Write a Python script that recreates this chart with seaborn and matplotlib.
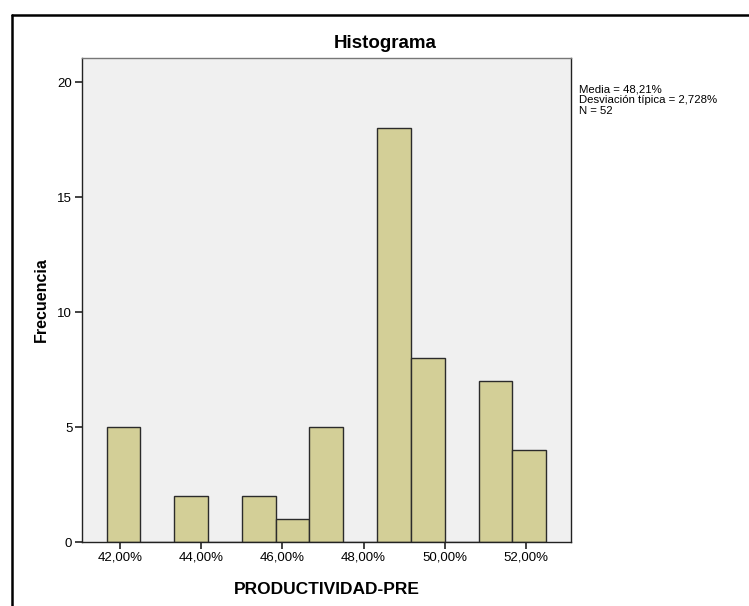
import numpy as np
import matplotlib
matplotlib.use("Agg")
import matplotlib.pyplot as plt
import seaborn as sns
from matplotlib.lines import Line2D

# bin centres (%) and counts
bin_centers = [42.083, 42.917, 43.750, 44.583, 45.417, 46.250, 47.083,
               47.917, 48.750, 49.583, 50.417, 51.250, 52.083]
counts = [5, 0, 2, 0, 2, 1, 5, 0, 18, 8, 0, 7, 4]
x_ticks = [42, 44, 46, 48, 50, 52]
y_ticks = [0, 5, 10, 15, 20]
stats_text = ["Media = 48,21%", "Desviación típica = 2,728%", "N = 52"]

sns.set_style("white", {"text.color": "black", "axes.labelcolor": "black",
                        "xtick.color": "black", "ytick.color": "black"})
plt.rcParams["font.family"] = ["Liberation Sans", "DejaVu Sans"]

fig = plt.figure(figsize=(7.49, 6.06), dpi=100)
ax = fig.add_axes([0.1095, 0.1056, 0.6528, 0.7987])

width = bin_centers[1] - bin_centers[0]
edges = [c - width / 2 for c in bin_centers] + [bin_centers[-1] + width / 2]

sns.histplot(x=bin_centers, weights=counts, bins=edges, ax=ax,
             color="#d3cf97", edgecolor="#2b2b2b", linewidth=1.0, alpha=1.0)

ax.set_facecolor("#f0f0f0")
ax.set_xlim(41.06, 53.11)
ax.set_ylim(0, 21.05)
ax.set_xticks(x_ticks)
ax.set_xticklabels([f"{t:.2f}%".replace(".", ",") for t in x_ticks], fontsize=9.5)
ax.set_yticks(y_ticks)
ax.set_yticklabels([str(t) for t in y_ticks], fontsize=9.5)
ax.tick_params(axis="both", direction="out", length=5, width=1.2, color="#222222",
               labelcolor="black", bottom=True, left=True, pad=2)

for side, sp in ax.spines.items():
    sp.set_visible(True)
    sp.set_linewidth(1.0)
    sp.set_color("#222222")
ax.spines["top"].set_color("#777777")

ax.set_xlabel("PRODUCTIVIDAD-PRE", fontsize=12.5, fontweight="bold", labelpad=13,
              color="black")
ax.set_ylabel("Frecuencia", fontsize=11.5, fontweight="bold", labelpad=6, color="black")

fig.text(0.514, 0.929, "Histograma", ha="center", va="center",
         fontsize=13.5, fontweight="bold", color="black")

for i, line in enumerate(stats_text):
    fig.text(0.773, 0.852 - i * 0.0175, line, ha="left", va="center", fontsize=8.2,
             color="black")

# outer frame (top and left edges visible)
fig.add_artist(Line2D([0.016, 1.0], [0.975, 0.975], color="black", linewidth=1.8,
                      transform=fig.transFigure))
fig.add_artist(Line2D([0.016, 0.016], [0.0, 0.975], color="black", linewidth=1.8,
                      transform=fig.transFigure))

fig.savefig("out.png", dpi=100)
